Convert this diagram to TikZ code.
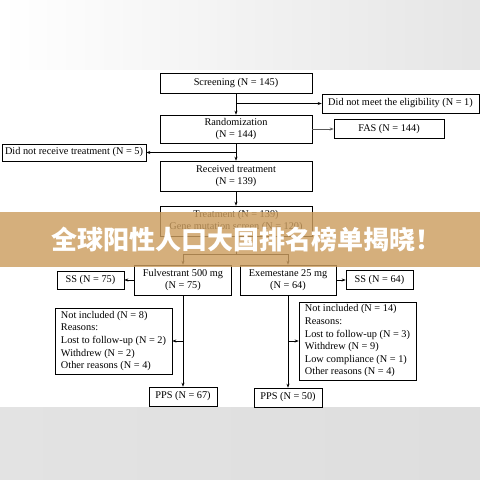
\documentclass[tikz,border=0pt]{standalone}
\usepackage{fontspec}
\setmainfont{Liberation Serif}
\newfontfamily\cjk{Noto Sans CJK SC}
\usepackage{xcolor}
\usepackage{tikz}
\usetikzlibrary{arrows.meta,positioning}

\definecolor{bannertan}{RGB}{204,158,96}

\begin{document}
\begin{tikzpicture}[
  x=1pt, y=-1pt,
  font=\fontsize{10.3}{12.6}\selectfont,
  >={Stealth[length=4pt,width=3pt]},
  box/.style={draw, line width=0.6pt, align=center, inner sep=1pt},
  lst/.style={draw, line width=0.6pt, align=left, inner xsep=3pt, inner ysep=3pt, minimum width=117pt},
  link/.style={line width=0.6pt}
]
\useasboundingbox (0,0) rectangle (480,480);
% page background
\fill[white] (0,0) rectangle (480,480);
\shade[left color=white, middle color=black!15, right color=black!10] (0,0) rectangle (480,69);
\shade[left color=black!11, middle color=black!3, right color=black!13] (0,407) rectangle (480,480);

% boxes
\node[box, minimum width=152pt, minimum height=20pt] (screen) at (236,83) {Screening (N = 145)};
\node[box, minimum width=157pt, minimum height=19pt] (inelig) at (400.5,103.5) {Did not meet the eligibility (N = 1)};
\node[box, minimum width=152pt, minimum height=28pt] (rand) at (236,129) {Randomization\\(N = 144)};
\node[box, minimum width=110pt, minimum height=19pt] (fas) at (389,129) {FAS (N = 144)};
\node[box, minimum width=144pt, minimum height=17pt] (norec) at (74,152.5) {Did not receive treatment (N = 5)};
\node[box, minimum width=152pt, minimum height=30pt] (recv) at (236,176) {Received treatment\\(N = 139)};
\node[box, minimum width=152pt, minimum height=30pt] (treat) at (236,221) {Treatment (N = 139)\\Gene mutation screen (N = 120)};
\node[box, minimum width=97pt, minimum height=30pt] (fulv) at (183,280) {Fulvestrant 500 mg\\(N = 75)};
\node[box, minimum width=96pt, minimum height=30pt] (exem) at (288,280) {Exemestane 25 mg\\(N = 64)};
\node[box, minimum width=67pt, minimum height=18pt] (ssl) at (90.5,280) {SS (N = 75)};
\node[box, minimum width=67pt, minimum height=19pt] (ssr) at (379.5,280) {SS (N = 64)};
\node[lst] (nincl) at (113.5,341) {Not included (N = 8)\\Reasons:\\Lost to follow-up (N = 2)\\Withdrew (N = 2)\\Other reasons (N = 4)};
\node[lst] (nincr) at (357.5,341) {Not included (N = 14)\\Reasons:\\Lost to follow-up (N = 3)\\Withdrew (N = 9)\\Low compliance (N = 1)\\Other reasons (N = 4)};
\node[box, minimum width=68pt, minimum height=19pt] (ppsl) at (183,396.5) {PPS (N = 67)};
\node[box, minimum width=68pt, minimum height=19pt] (ppsr) at (288,397.5) {PPS (N = 50)};

% connectors
\draw[link, ->] (screen) -- (rand);
\coordinate (b1) at (screen.south |- inelig.west);
\draw[link, ->] (b1) -- (inelig);
\draw[link, ->, black!65] (rand) -- (fas);
\draw[link, ->] (rand) -- (recv);
\coordinate (b2) at (rand.south |- norec.east);
\draw[link, ->] (b2) -- (norec);
\draw[link, ->] (recv) -- (treat);
\draw[link] (treat.south) -- ++(0,18) coordinate (split);
\draw[link, ->] (split) -| (fulv);
\draw[link, ->] (split) -| (exem);
\draw[link, ->] (fulv) -- (ssl);
\draw[link, ->] (exem) -- (ssr);
\draw[link, ->] (fulv.south) -- (fulv.south |- ppsl.north);
\draw[link, ->] (exem.south) -- (exem.south |- ppsr.north);
\coordinate (b3) at (fulv.south |- nincl.east);
\draw[link, ->] (b3) -- (nincl);
\coordinate (b4) at (exem.south |- nincr.west);
\draw[link, ->] (b4) -- (nincr);

% banner
\fill[bannertan, opacity=0.82] (0,212) rectangle (480,267);
\node[text=white, font=\cjk\bfseries\fontsize{26}{26}\selectfont] (title) at (247,240) {全球阳性人口大国排名榜单揭晓！};
\end{tikzpicture}
\end{document}
